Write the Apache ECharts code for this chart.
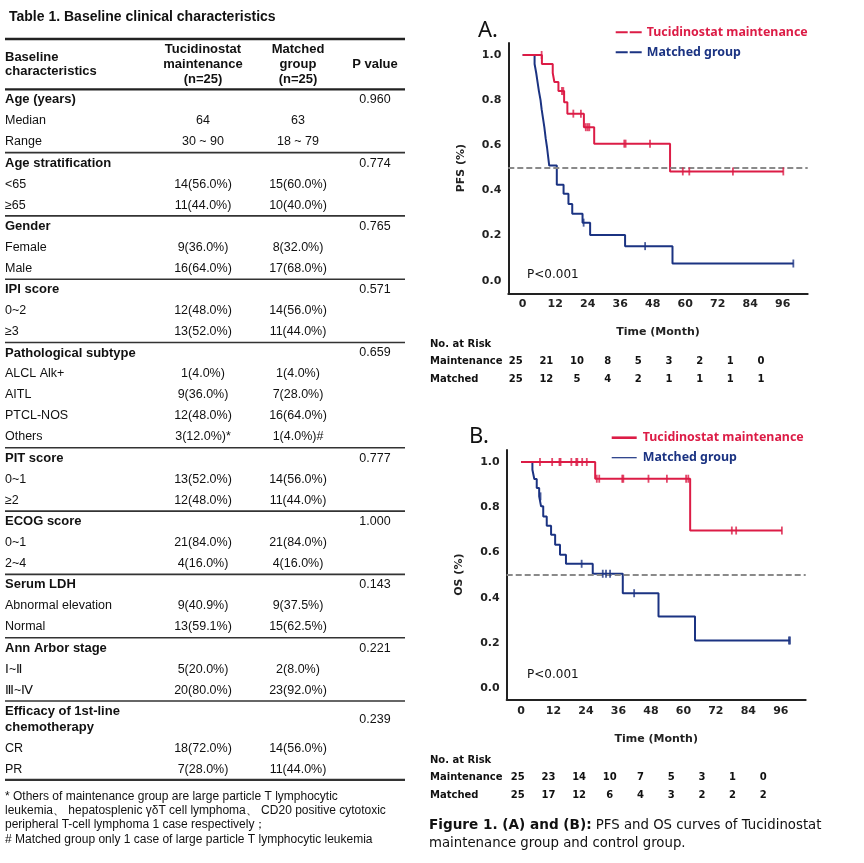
<!DOCTYPE html>
<html><head><meta charset="utf-8">
<script src="https://cdn.jsdelivr.net/npm/echarts@6/dist/echarts.min.js"></script>
<style>html,body{margin:0;padding:0;background:#fff}#main{width:864px;height:863px}</style>
</head><body><div id="main"></div>
<script>
// ---------------- Table data ----------------
const tableTitle = 'Table 1. Baseline clinical characteristics';
const headerBaseline = ['Baseline', 'characteristics'];
const headerMaint = ['Tucidinostat', 'maintenance', '(n=25)'];
const headerMatched = ['Matched', 'group', '(n=25)'];
const headerP = 'P value';
const groupNames = ['Age (years)', 'Age stratification', 'Gender', 'IPI score', 'Pathological subtype',
  'PIT score', 'ECOG score', 'Serum LDH', 'Ann Arbor stage', 'Efficacy of 1st-line\nchemotherapy'];
const groupP = ['0.960', '0.774', '0.765', '0.571', '0.659', '0.777', '1.000', '0.143', '0.221', '0.239'];
const rowLabels = [['Median', 'Range'], ['<65', '≥65'], ['Female', 'Male'], ['0~2', '≥3'],
  ['ALCL Alk+', 'AITL', 'PTCL-NOS', 'Others'], ['0~1', '≥2'], ['0~1', '2~4'],
  ['Abnormal elevation', 'Normal'], ['Ⅰ~Ⅱ', 'Ⅲ~Ⅳ'], ['CR', 'PR']];
const maintValues = [['64', '30 ~ 90'], ['14(56.0%)', '11(44.0%)'], ['9(36.0%)', '16(64.0%)'],
  ['12(48.0%)', '13(52.0%)'], ['1(4.0%)', '9(36.0%)', '12(48.0%)', '3(12.0%)*'],
  ['13(52.0%)', '12(48.0%)'], ['21(84.0%)', '4(16.0%)'], ['9(40.9%)', '13(59.1%)'],
  ['5(20.0%)', '20(80.0%)'], ['18(72.0%)', '7(28.0%)']];
const matchedValues = [['63', '18 ~ 79'], ['15(60.0%)', '10(40.0%)'], ['8(32.0%)', '17(68.0%)'],
  ['14(56.0%)', '11(44.0%)'], ['1(4.0%)', '7(28.0%)', '16(64.0%)', '1(4.0%)#'],
  ['14(56.0%)', '11(44.0%)'], ['21(84.0%)', '4(16.0%)'], ['9(37.5%)', '15(62.5%)'],
  ['2(8.0%)', '23(92.0%)'], ['14(56.0%)', '11(44.0%)']];
const footnotes = [
  '* Others of maintenance group are large particle T lymphocytic',
  'leukemia、 hepatosplenic γδT cell lymphoma、 CD20 positive cytotoxic',
  'peripheral T-cell lymphoma 1 case respectively；',
  '# Matched group only 1 case of large particle T lymphocytic leukemia'];

// ---------------- Survival data (months, survival probability) ----------------
const timeTicks = [0, 12, 24, 36, 48, 60, 72, 84, 96];
const survTicks = [0, 0.2, 0.4, 0.6, 0.8, 1.0];
// PFS
const pfsMaintTimes = [0, 7.1, 11.1, 11.7, 13.2, 15.3, 16.5, 22.6, 26.4, 54.4, 96.2];
const pfsMaintSurv  = [1.0, 0.96, 0.92, 0.88, 0.84, 0.79, 0.74, 0.68, 0.607, 0.484, 0.484];
const pfsMaintCensor = [7.0, 14.5, 15.0, 18.7, 21.5, 23.3, 24.0, 24.6, 37.5, 38.0, 47.0, 59.1, 61.5, 77.6, 96.2];
const pfsMatchTimes = [0, 4.4, 5.0, 5.5, 6.0, 6.6, 7.0, 7.5, 8.0, 8.5, 9.0, 9.4, 9.8, 12.6, 15.1, 16.9, 18.3, 22.1, 24.9, 37.8, 55.3, 99.9];
const pfsMatchSurv  = [1.0, 0.96, 0.92, 0.88, 0.84, 0.80, 0.76, 0.72, 0.68, 0.63, 0.59, 0.55, 0.51, 0.425, 0.385, 0.34, 0.296, 0.257, 0.202, 0.153, 0.076, 0.076];
const pfsMatchCensor = [22.5, 45.2, 99.9];
// OS
const osMaintTimes = [0, 27.4, 62.5, 96.4];
const osMaintSurv  = [1.0, 0.926, 0.697, 0.697];
const osMaintCensor = [7.0, 11.5, 14.2, 14.6, 18.6, 20.4, 20.8, 22.6, 24.3, 28.0, 28.9, 37.4, 37.8, 47.1, 53.9, 61.0, 61.8, 77.9, 79.5, 96.4];
const osMatchTimes = [0, 4.2, 4.9, 5.8, 6.7, 7.4, 8.2, 9.5, 11.1, 12.6, 14.4, 16.6, 26.5, 37.6, 50.8, 64.3, 99.4];
const osMatchSurv  = [1.0, 0.966, 0.925, 0.885, 0.848, 0.804, 0.759, 0.718, 0.678, 0.634, 0.590, 0.550, 0.506, 0.42, 0.317, 0.211, 0.211];
const osMatchCensor = [7.2, 22.4, 30.2, 31.4, 32.9, 41.8, 99.0, 99.4];
// Number at risk
const riskLabels = ['No. at Risk', 'Maintenance', 'Matched'];
const pfsRiskMaint = [25, 21, 10, 8, 5, 3, 2, 1, 0];
const pfsRiskMatch = [25, 12, 5, 4, 2, 1, 1, 1, 1];
const osRiskMaint = [25, 23, 14, 10, 7, 5, 3, 1, 0];
const osRiskMatch = [25, 17, 12, 6, 4, 3, 2, 2, 2];
const legendNames = ['Tucidinostat maintenance', 'Matched group'];
const pText = 'P<0.001';

// ---------------- Styles ----------------
const RED = '#DC1C46', BLUE = '#1B3382', INK = '#111';
const FT = "'Liberation Sans', Arial, sans-serif";
const FV = "'DejaVu Sans', Verdana, sans-serif";
const FS = "'Noto Sans', 'Open Sans', sans-serif";

const G = [];
function text(x, y, s, o) {
  o = o || {};
  G.push({ type: 'text', x: x, y: y, silent: true, z: 10,
    style: { text: s, fill: o.fill || INK, fontSize: o.size || 12.5, fontWeight: o.bold ? 'bold' : 'normal',
      fontFamily: o.family || FT, align: o.align || 'left', verticalAlign: 'middle', rich: o.rich, lineHeight: o.lh } });
}
function hline(x1, x2, y, w, color, dash) {
  G.push({ type: 'line', silent: true, z: 10, shape: { x1: x1, y1: y, x2: x2, y2: y },
    style: { stroke: color || '#222', lineWidth: w, lineDash: dash || null } });
}

// ---------------- Table layout ----------------
const TL = 5, TR = 405, C1 = 203, C2 = 298, CP = 375;
text(9, 17, tableTitle, { size: 14, bold: true });
hline(TL, TR, 39, 2.4);
text(TL, 57, headerBaseline[0], { bold: true, size: 13 });
text(TL, 71.5, headerBaseline[1], { bold: true, size: 13 });
headerMaint.forEach((h, k) => text(C1, 49 + k * 15, h, { bold: true, size: 13, align: 'center' }));
headerMatched.forEach((h, k) => text(C2, 49 + k * 15, h, { bold: true, size: 13, align: 'center' }));
text(CP, 64, headerP, { bold: true, size: 13, align: 'center' });
hline(TL, TR, 89.3, 2.2);

let yy = 89.3;
const ROW = 21, HEAD = 10.5, TAIL = 10.8, L2 = 15.6;
groupNames.forEach((name, i) => {
  const hl = name.split('\n');
  const ty = yy + HEAD;
  hl.forEach((h, k) => text(TL, ty + k * L2, h, { bold: true, size: 13 }));
  text(CP, ty + (hl.length - 1) * L2 / 2, groupP[i], { align: 'center' });
  let ry = ty + (hl.length - 1) * L2;
  rowLabels[i].forEach((lab, k) => {
    ry += ROW;
    text(TL, ry, lab);
    text(C1, ry, maintValues[i][k], { align: 'center' });
    text(C2, ry, matchedValues[i][k], { align: 'center' });
  });
  yy = ry + TAIL;
  hline(TL, TR, yy, i === groupNames.length - 1 ? 2.4 : 1.6, '#333');
});
footnotes.forEach((f, k) => text(TL, 796.7 + k * 14.2, f, { size: 12 }));

// ---------------- Figure panels ----------------
function legendAt(x, y1, y2, dashed) {
  if (dashed) {
    hline(x, x + 26, y1, 2, RED, [12, 2]);
    hline(x, x + 26, y2, 2, BLUE, [12, 2]);
  } else {
    hline(x, x + 25, y1, 2.6, RED);
    hline(x, x + 25, y2, 1.2, BLUE);
  }
  text(x + 31, y1, legendNames[0], { fill: RED, bold: true, size: 12.4, family: FS });
  text(x + 31, y2, legendNames[1], { fill: BLUE, bold: true, size: 12.4, family: FS });
}
text(478, 31, 'A.', { size: 22, family: FS });
legendAt(615.7, 32.3, 52.3, true);
text(469, 437, 'B.', { size: 22, family: FS });
legendAt(611.7, 437.7, 457.7, false);
text(527, 275, pText, { size: 12, family: FV });
text(527, 675, pText, { size: 12, family: FV });

function riskTable(yTop, x0, step, maint, match) {
  text(430, yTop, riskLabels[0], { bold: true, size: 10, family: FV });
  text(430, yTop + 17.7, riskLabels[1], { bold: true, size: 10, family: FV });
  text(430, yTop + 35.3, riskLabels[2], { bold: true, size: 10, family: FV });
  maint.forEach((v, k) => text(x0 + k * step, yTop + 17.7, String(v), { bold: true, size: 10, family: FV, align: 'center' }));
  match.forEach((v, k) => text(x0 + k * step, yTop + 35.3, String(v), { bold: true, size: 10, family: FV, align: 'center' }));
}
riskTable(344, 515.7, 30.66, pfsRiskMaint, pfsRiskMatch);
riskTable(760, 517.7, 30.7, osRiskMaint, osRiskMatch);

text(429, 834.3, '{b|Figure 1. (A) and (B):} PFS and OS curves of Tucidinostat\nmaintenance group and control group.',
  { size: 13.3, family: FV, lh: 18, rich: { b: { fontWeight: 'bold', fontSize: 13.6, fontFamily: FV, fill: INK, lineHeight: 18 } } });

// ---------------- Helpers for curves ----------------
function km(times, surv) { return times.map((t, i) => [t, surv[i]]); }
function survAt(times, surv, t) { let s = surv[0]; for (let i = 0; i < times.length; i++) if (times[i] <= t) s = surv[i]; return s; }
function censorPts(ct, times, surv) { return ct.map(t => [t, survAt(times, surv, t)]); }

const axisFont = { fontWeight: 'bold', fontSize: 11, fontFamily: FV, color: '#222' };
function xAx(gi, gap, lm) {
  return { gridIndex: gi, type: 'value', min: -5.3, max: 105.2,
    axisLine: { onZero: false, lineStyle: { color: '#222', width: 2 } }, axisTick: { show: false }, splitLine: { show: false },
    axisLabel: Object.assign({ customValues: timeTicks, margin: lm, formatter: v => String(v) }, axisFont),
    name: 'Time (Month)', nameLocation: 'middle', nameGap: gap, nameTextStyle: axisFont };
}
function yAx(gi, mn, mx, nm) {
  return { gridIndex: gi, type: 'value', min: mn, max: mx,
    axisLine: { onZero: false, lineStyle: { color: '#222', width: 2 } }, axisTick: { show: false }, splitLine: { show: false },
    axisLabel: Object.assign({ customValues: survTicks, margin: 7, formatter: v => v.toFixed(1) }, axisFont),
    name: nm, nameLocation: 'middle', nameRotate: 90, nameGap: 42, nameTextStyle: axisFont };
}
function curve(gi, times, surv, color, z, ml) {
  const s = { type: 'line', xAxisIndex: gi, yAxisIndex: gi, step: 'end', data: km(times, surv), symbol: 'none',
    lineStyle: { color: color, width: 2 }, z: z, silent: true };
  if (ml) s.markLine = { silent: true, symbol: 'none', label: { show: false },
    lineStyle: { color: '#8a8a8a', type: [6, 3], width: 2 }, data: [{ yAxis: 0.5 }] };
  return s;
}
function cens(gi, ct, times, surv, color, z) {
  return { type: 'scatter', xAxisIndex: gi, yAxisIndex: gi, data: censorPts(ct, times, surv), symbol: 'rect',
    symbolSize: [1.8, 8], itemStyle: { color: color }, z: z, silent: true };
}

const chart = echarts.init(document.getElementById('main'), null, { renderer: 'canvas' });
chart.setOption({
  animation: false,
  backgroundColor: '#fff',
  grid: [
    { left: 508.3, top: 43, width: 299.4, height: 250.3 },
    { left: 506.7, top: 450, width: 299, height: 249.3 }
  ],
  xAxis: [xAx(0, 33.5, 5), xAx(1, 34, 6)],
  yAxis: [yAx(0, -0.056, 1.053, 'PFS (%)'), yAx(1, -0.049, 1.053, 'OS (%)')],
  series: [
    curve(0, pfsMatchTimes, pfsMatchSurv, BLUE, 3, true),
    curve(0, pfsMaintTimes, pfsMaintSurv, RED, 4, false),
    cens(0, pfsMatchCensor, pfsMatchTimes, pfsMatchSurv, BLUE, 5),
    cens(0, pfsMaintCensor, pfsMaintTimes, pfsMaintSurv, RED, 5),
    curve(1, osMatchTimes, osMatchSurv, BLUE, 3, true),
    curve(1, osMaintTimes, osMaintSurv, RED, 4, false),
    cens(1, osMatchCensor, osMatchTimes, osMatchSurv, BLUE, 5),
    cens(1, osMaintCensor, osMaintTimes, osMaintSurv, RED, 5)
  ],
  graphic: G
});
</script></body></html>
